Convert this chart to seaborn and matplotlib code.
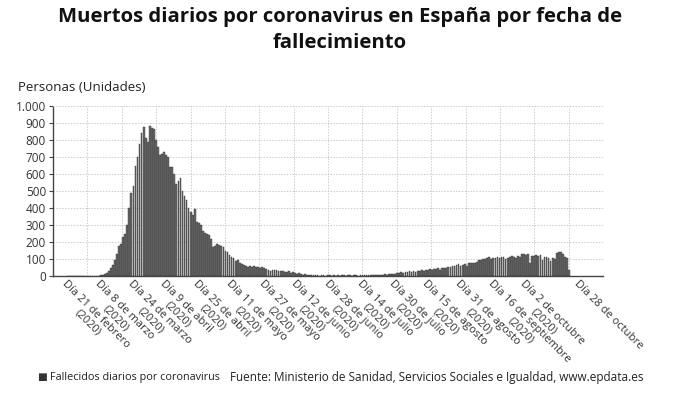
import matplotlib.pyplot as plt
import matplotlib.transforms as mtransforms
import numpy as np
import pandas as pd
import seaborn as sns

# Fallecidos diarios, del 21 de febrero (día 0) al 28 de octubre de 2020 (día 250)
fallecidos_feb_mar = [0, 0, 0, 0, 0, 0, 0, 0, 0, 0, 0, 0, 0, 1, 2, 3, 5, 8, 12, 18,
                      28, 45, 65, 95, 130, 175, 190, 230, 250]
fallecidos_pico = [300, 400, 490, 530, 650, 700, 780, 840, 875, 810,
                   790, 885, 870, 865, 800, 760, 710, 720, 730, 710,
                   700, 640, 640, 600, 540, 560, 575, 500, 470, 450,
                   400, 380, 360, 395, 320, 310, 300, 265, 255, 250,
                   240, 220, 170, 175, 190, 185, 180, 170, 150, 140,
                   125, 110, 105, 90, 95, 80, 70, 65, 60, 55,
                   60, 55, 58, 52, 56, 48, 52, 45, 40, 35,
                   30, 35, 38, 35, 30, 28, 32, 25, 22, 30,
                   20, 25, 18, 15, 18, 10, 8, 12, 8, 6, 6]
fallecidos_verano = [5, 4, 6, 3, 5, 4, 3, 5, 4, 3,
                     4, 3, 5, 3, 4, 4, 3, 5, 4, 3,
                     4, 5, 3, 4, 6, 5, 4, 6, 5, 7,
                     6, 8, 7, 9, 8, 10, 9, 12, 11, 14,
                     15, 18, 16, 22, 20, 25, 24, 28, 26, 30,
                     25, 32, 30, 35, 28, 38, 35, 40, 36, 42,
                     40, 45, 38, 48, 45, 50, 55, 52, 60, 58]
fallecidos_otono = [65, 70, 62, 68, 72, 60, 75, 78, 80, 76,
                    85, 95, 92, 98, 100, 105, 110, 100, 108, 104,
                    112, 106, 110, 115, 100, 108, 113, 118, 110, 105,
                    120, 112, 133, 128, 124, 130, 75, 120, 118, 122,
                    117, 123, 95, 112, 113, 108, 88, 105, 100, 137,
                    143, 139, 128, 110, 108, 35]
fallecidos = fallecidos_feb_mar + fallecidos_pico + fallecidos_verano + fallecidos_otono
fallecidos = fallecidos[:251]
dias = list(range(len(fallecidos)))

tick_dias = [0, 16, 32, 48, 64, 80, 96, 112, 128, 144, 160, 176, 192, 208, 224, 250]
tick_labels = ["Día 21 de febrero\n(2020)", "Día 8 de marzo\n(2020)",
               "Día 24 de marzo\n(2020)", "Día 9 de abril\n(2020)",
               "Día 25 de abril\n(2020)", "Día 11 de mayo\n(2020)",
               "Día 27 de mayo\n(2020)", "Día 12 de junio\n(2020)",
               "Día 28 de junio\n(2020)", "Día 14 de julio\n(2020)",
               "Día 30 de julio\n(2020)", "Día 15 de agosto\n(2020)",
               "Día 31 de agosto\n(2020)", "Día 16 de septiembre\n(2020)",
               "Día 2 de octubre\n(2020)", "Día 28 de octubre"]
y_ticks = [0, 100, 200, 300, 400, 500, 600, 700, 800, 900, 1000]

df = pd.DataFrame({"dia": dias, "fallecidos": fallecidos})

sns.set_theme(style="white")
plt.rcParams["font.family"] = ["Open Sans", "DejaVu Sans"]

fig = plt.figure(figsize=(6.8, 3.99), dpi=100)
ax = fig.add_axes([0.078, 0.308, 0.809, 0.426])

sns.barplot(data=df, x="dia", y="fallecidos", native_scale=True, color="#6a6a6a",
            edgecolor="#333333", linewidth=0.3, width=0.85, saturation=1, ax=ax)

xmin, xmax = -7.3, 261.7
ax.set_xlim(xmin, xmax)
ax.set_ylim(0, 1000)

ax.set_yticks(y_ticks)
ax.set_yticklabels([f"{v:,}".replace(",", ".") for v in y_ticks], fontsize=8.5, color="#333333")
ax.set_xticks(tick_dias)
ax.set_xticklabels(tick_labels, rotation=-45, ha="left", va="top", multialignment="center",
                   rotation_mode="anchor", fontsize=8, color="#333333", linespacing=1.15)
offset = mtransforms.ScaledTranslation(-4 / 72, 0, fig.dpi_scale_trans)
for lbl in ax.get_xticklabels():
    lbl.set_transform(lbl.get_transform() + offset)

grid_x = np.linspace(xmin, xmax, 17)[1:]
ax.set_xticks(grid_x, minor=True)
ax.grid(which="minor", axis="x", color="#cccccc", linestyle=(0, (1.5, 1.5)), linewidth=0.7)
ax.grid(which="major", axis="y", color="#cccccc", linestyle=(0, (1.5, 1.5)), linewidth=0.7)
ax.grid(which="major", axis="x", visible=False)
ax.set_axisbelow(True)

ax.tick_params(axis="y", which="major", length=3, width=0.8, color="#444444", pad=2, left=True)
ax.tick_params(axis="x", which="major", length=0, pad=1.5, bottom=True)
ax.tick_params(axis="x", which="minor", length=0)

for side in ["top", "right"]:
    ax.spines[side].set_visible(False)
for side in ["left", "bottom"]:
    ax.spines[side].set_color("#444444")
    ax.spines[side].set_linestyle((0, (1.5, 1)))
    ax.spines[side].set_linewidth(1.0)
ax.set_xlabel("")
ax.set_ylabel("")

fig.text(0.5, 0.925, "Muertos diarios por coronavirus en España por fecha de\nfallecimiento",
         ha="center", va="center", fontsize=14.6, fontweight="bold", color="#111111",
         linespacing=1.45)
fig.text(0.026, 0.78, "Personas (Unidades)", ha="left", va="center", fontsize=9.5, color="#222222")
fig.text(0.055, 0.055, "■", ha="left", va="center", fontsize=7.5, color="#333333",
         family=["DejaVu Sans"])
fig.text(0.073, 0.055, "Fallecidos diarios por coronavirus", ha="left", va="center",
         fontsize=7.8, color="#222222")
fig.text(0.338, 0.055, "Fuente: Ministerio de Sanidad, Servicios Sociales e Igualdad, www.epdata.es",
         ha="left", va="center", fontsize=8.5, color="#222222")

fig.savefig("out.png", dpi=100)
